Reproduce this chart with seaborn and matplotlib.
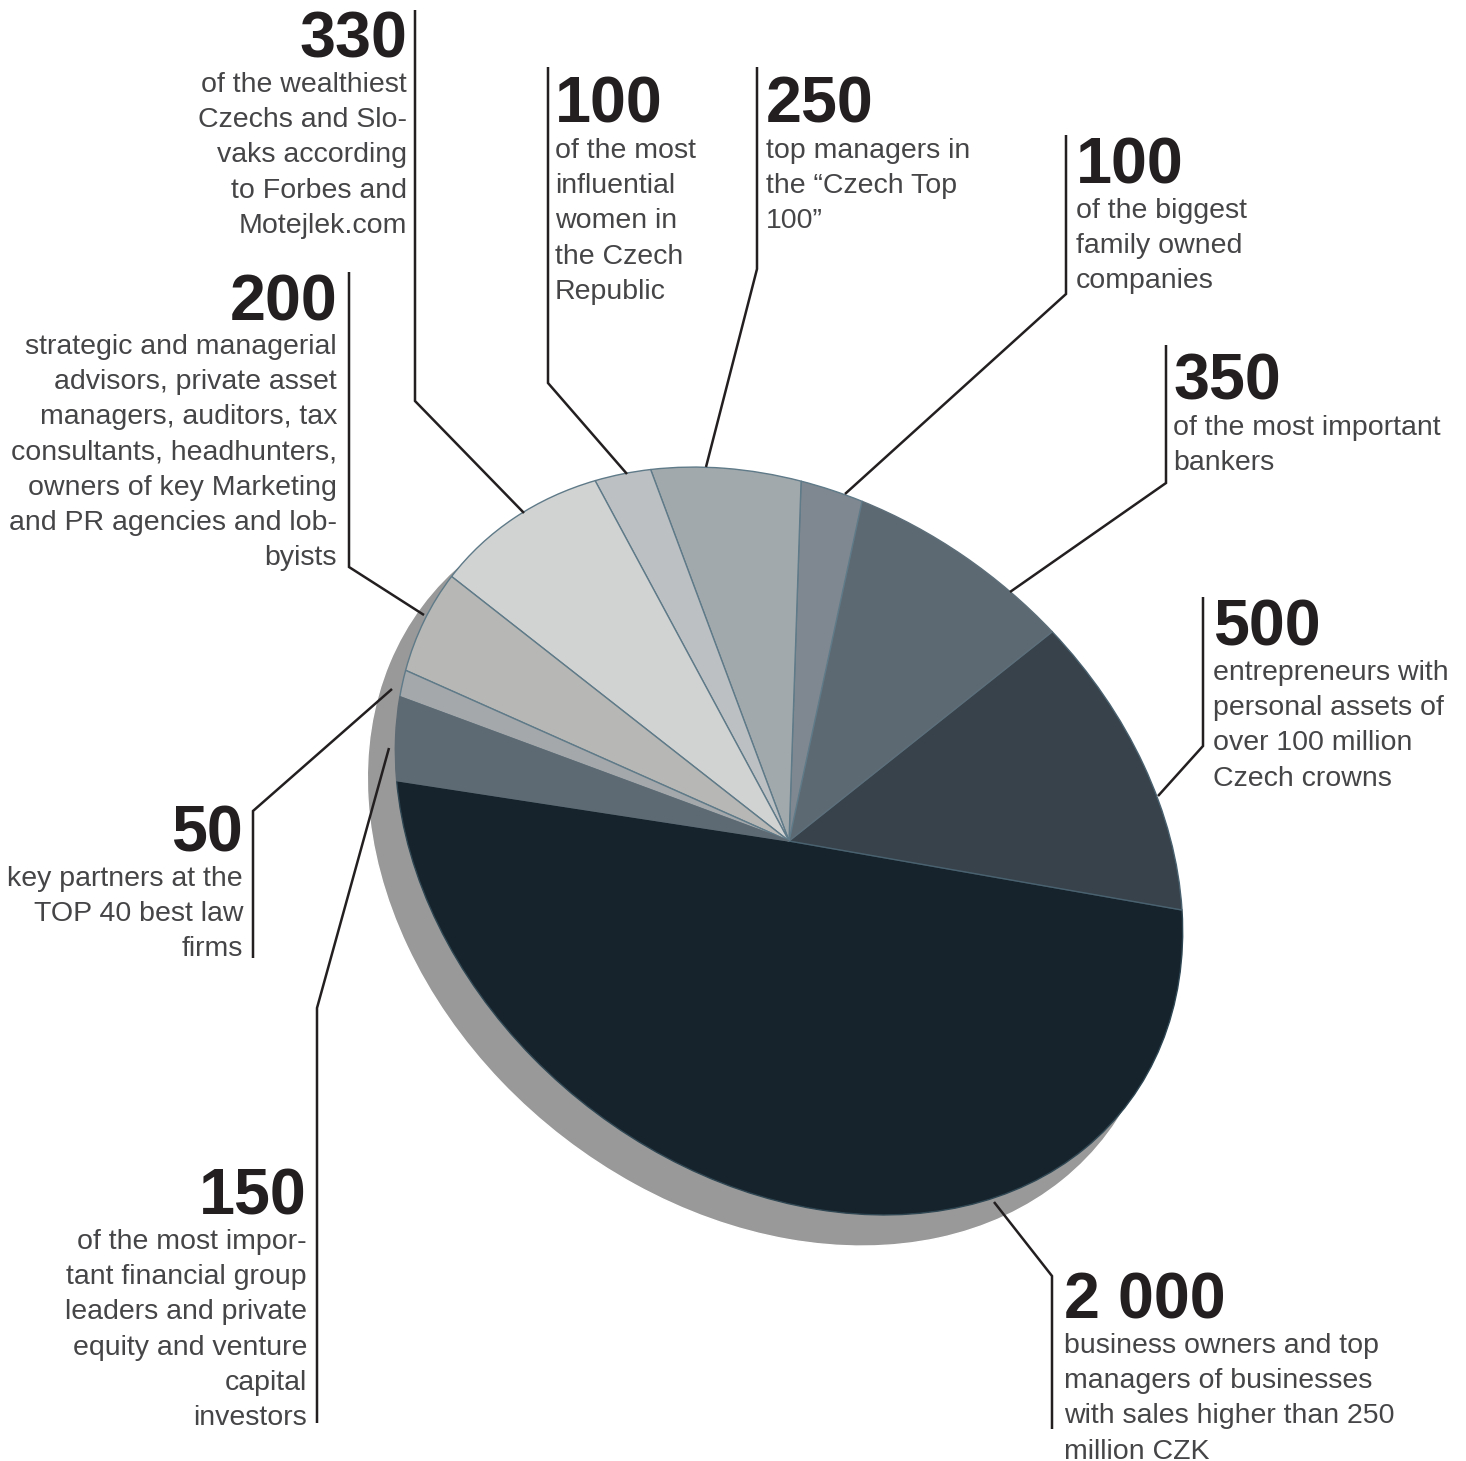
"""Tilted pie chart of the target group, with leader lines and labels."""
import matplotlib
matplotlib.use('Agg')
import matplotlib.pyplot as plt
import seaborn as sns
from matplotlib.transforms import Affine2D

# Data, counter-clockwise from the big dark slice
segment_values = [2000, 500, 350, 100, 250, 100, 330, 200, 50, 150]
big_labels = ['2 000', '500', '350', '100', '250', '100', '330', '200', '50', '150']
descriptions = [
    ['business owners and top', 'managers of businesses', 'with sales higher than 250', 'million CZK'],
    ['entrepreneurs with', 'personal assets of', 'over 100 million', 'Czech crowns'],
    ['of the most important', 'bankers'],
    ['of the biggest', 'family owned', 'companies'],
    ['top managers in', 'the \u201cCzech Top', '100\u201d'],
    ['of the most', 'influential', 'women in', 'the Czech', 'Republic'],
    ['of the wealthiest', 'Czechs and Slo-', 'vaks according', 'to Forbes and', 'Motejlek.com'],
    ['strategic and managerial', 'advisors, private asset', 'managers, auditors, tax',
     'consultants, headhunters,', 'owners of key Marketing', 'and PR agencies and lob-', 'byists'],
    ['key partners at the', 'TOP 40 best law', 'firms'],
    ['of the most impor-', 'tant financial group', 'leaders and private',
     'equity and venture', 'capital', 'investors'],
]
segment_colors = ['#16232c', '#37424b', '#5d6972', '#7f8890', '#a2a9ad',
                  '#bcc0c3', '#d1d3d3', '#b7b8b5', '#a4a8ab', '#5e6a73']

# Layout, all in image pixels
WIDTH, HEIGHT = 1466, 1461
EDGE = '#5f7a88'
edge_colors = ['#2f4753', '#4a6270', '#5d6f7a', EDGE, EDGE, EDGE, EDGE, EDGE, EDGE, '#5e6a73']
# (x, align, number baseline, first body baseline)
label_pos = [
    (1064, 'left', 1318, 1353),
    (1213, 'left', 645, 680),
    (1173, 'left', 399, 435),
    (1076, 'left', 183, 218),
    (766, 'left', 122, 158),
    (555, 'left', 122, 158),
    (407, 'right', 57, 92),
    (337, 'right', 320, 354),
    (243, 'right', 851, 886),
    (307, 'right', 1214, 1249),
]
leaders = [
    [(1052, 1429), (1052, 1276), (994, 1202)],
    [(1203, 597), (1203, 746), (1158, 796)],
    [(1166, 345), (1166, 483), (1010, 592)],
    [(1066, 135), (1066, 294), (845, 494)],
    [(757, 67), (757, 269), (706, 467)],
    [(548, 67), (548, 383), (627, 474)],
    [(415, 10), (415, 401), (524, 513)],
    [(349, 272), (349, 567), (424, 615)],
    [(253, 958), (253, 811), (392, 689)],
    [(317, 1423), (317, 1008), (389, 748)],
]
LINE_STEP = 35.2

sns.set_theme(style='white')

fig = plt.figure(figsize=(WIDTH / 100, HEIGHT / 100), dpi=100)
ax = fig.add_axes([0, 0, 1, 1])

# The unit circle goes through this affine map to get the tilted ellipse
disc = Affine2D.from_values(393, 69, -23.2, -367.5, 789, 841)
shadow = Affine2D.from_values(397, 70, -23.4, -370, 765, 869.5)

shadow_wedges, _ = ax.pie([1], colors=['#999999'], radius=1)
shadow_wedges[0].set_transform(shadow + ax.transData)

total = sum(segment_values)
start = -180 * segment_values[0] / (total / 2)
wedges, _ = ax.pie(segment_values, colors=sns.color_palette(segment_colors),
                   startangle=start, radius=1, wedgeprops={'linewidth': 1.0})
for wedge, edge in zip(wedges, edge_colors):
    wedge.set_transform(disc + ax.transData)
    wedge.set_edgecolor(edge)

for path in leaders:
    xs, ys = zip(*path)
    ax.plot(xs, ys, color='#231f20', lw=1.8, solid_joinstyle='miter', solid_capstyle='butt')

for big, lines, (x, align, num_y, body_y) in zip(big_labels, descriptions, label_pos):
    ax.text(x, num_y + 0.5, big, ha=align, va='baseline', fontsize=46.5, fontweight='bold',
            family='Liberation Sans', color='#231f20')
    for i, line in enumerate(lines):
        ax.text(x, body_y + i * LINE_STEP, line, ha=align, va='baseline', fontsize=20.5,
                family='Liberation Sans', color='#454547')

ax.set_aspect('auto')
ax.set_xlim(0, WIDTH)
ax.set_ylim(HEIGHT, 0)
ax.axis('off')

fig.savefig('out.png', dpi=100, facecolor='white')
